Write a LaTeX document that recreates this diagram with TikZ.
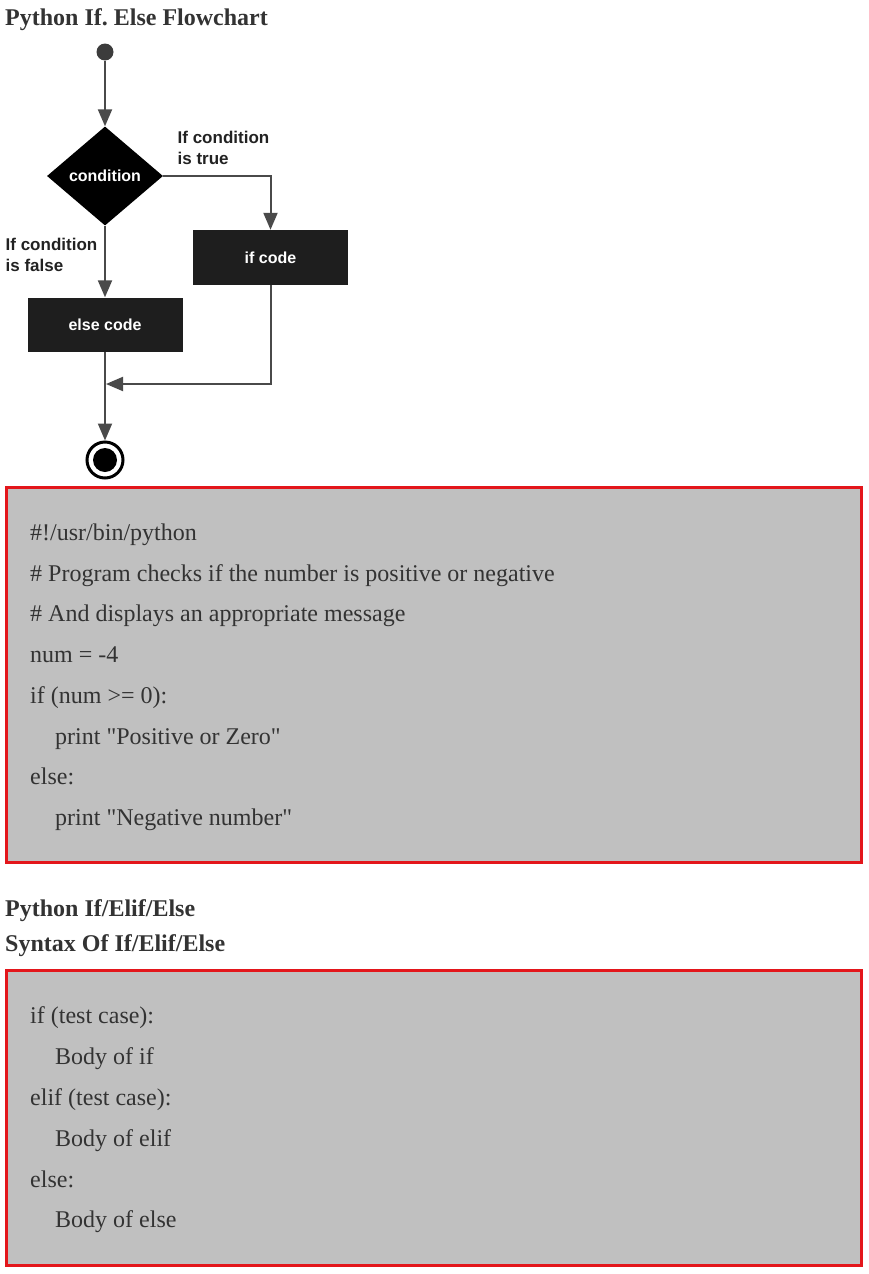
\documentclass[tikz,border=0pt]{standalone}
\usepackage{fontspec}
\setmainfont{Liberation Serif}
\newfontfamily\plainserif{Liberation Serif}
\newfontfamily\chartfont{Liberation Sans}
\usetikzlibrary{arrows.meta, shapes.geometric, positioning}

\definecolor{linegray}{HTML}{4A4A4A}
\definecolor{dotgray}{HTML}{3C3C3C}
\definecolor{boxblack}{HTML}{1E1E1E}
\definecolor{notegray}{HTML}{222222}
\definecolor{textgray}{HTML}{333333}
\definecolor{codegray}{HTML}{C0C0C0}
\definecolor{codered}{HTML}{E3161B}

\begin{document}
\begin{tikzpicture}
	[
		x=1pt, y=-1pt,
		flow/.style={draw=linegray, line width=2pt, -{Triangle[length=17pt,width=14pt]}},
		block/.style={fill=boxblack, text=white, minimum width=155pt, minimum height=55pt, inner sep=0pt, font=\chartfont\bfseries\fontsize{16}{19}\selectfont},
		decision/.style={diamond, fill=black, text=white, minimum width=116pt, minimum height=99pt, inner sep=0pt, font=\chartfont\bfseries\fontsize{16}{19}\selectfont},
		note/.style={anchor=north west, align=left, inner sep=0pt, text=notegray, font=\chartfont\bfseries\fontsize{17}{21.6}\selectfont},
		heading/.style={anchor=base west, inner sep=0pt, text=textgray, font=\bfseries\fontsize{24}{28}\selectfont},
		codeline/.style={anchor=base west, inner sep=0pt, text=textgray, font=\plainserif\fontsize{24}{28}\selectfont},
		codebox/.style={draw=codered, fill=codegray, line width=3pt}
	]
	
	\useasboundingbox (0,0) rectangle (868,1274);
	
	% Draw title.
	\node[heading] (flowtitle) at (5,25) {Python If.\ Else Flowchart};
	
	% Draw flowchart nodes.
	\node[circle, fill=dotgray, minimum size=17pt, inner sep=0pt] (start) at (105,52) {};
	\node[decision] (cond) at (105,176) {condition};
	\node[block] (ifcode) at (270.5,257.5) {if code};
	\node[block, minimum height=54pt] (elsecode) at (105,324.5) {else code};
	\node[circle, draw=black, line width=3pt, fill=white, minimum size=36pt, inner sep=0pt] (stop) at (105,460) {};
	\fill[black] (stop) circle (12pt);
	\coordinate (merge) at (106,384);
	
	% Draw branch labels.
	\node[note] (truenote) at (177.5,130.5) {If condition\\is true};
	\node[note] (falsenote) at (5.5,237.8) {If condition\\is false};
	
	% Draw connectors.
	\draw[flow] (start) -- (cond.north);
	\draw[flow] (cond.east) -| (ifcode.north);
	\draw[flow] (cond.south) -- (elsecode.north);
	\draw[flow] (elsecode.south) -- (stop.north);
	\draw[flow] (ifcode.south) |- (merge);
	
	% Draw first code box.
	\draw[codebox] (6.5,487.5) rectangle (861.5,862.5);
	\node[codeline] (code1) at (30,540) {\#!/usr/bin/python};
	\node[codeline] (code2) at (30,581) {\# Program checks if the number is positive or negative};
	\node[codeline] (code3) at (30,621) {\# And displays an appropriate message};
	\node[codeline] (code4) at (30,662) {num = -4};
	\node[codeline] (code5) at (30,703) {if (num >= 0):};
	\node[codeline] (code6) at (55,744) {print "Positive or Zero"};
	\node[codeline] (code7) at (30,784) {else:};
	\node[codeline] (code8) at (55,825) {print "Negative number"};
	
	% Draw headings.
	\node[heading] (eliftitle) at (5,916) {Python If/Elif/Else};
	\node[heading] (syntaxtitle) at (5,951) {Syntax Of If/Elif/Else};
	
	% Draw second code box.
	\draw[codebox] (6.5,970.5) rectangle (861.5,1265.5);
	\node[codeline] (syn1) at (30,1023) {if (test case):};
	\node[codeline] (syn2) at (55,1064) {Body of if};
	\node[codeline] (syn3) at (30,1105) {elif (test case):};
	\node[codeline] (syn4) at (55,1146) {Body of elif};
	\node[codeline] (syn5) at (30,1187) {else:};
	\node[codeline] (syn6) at (55,1227) {Body of else};
\end{tikzpicture}
\end{document}
